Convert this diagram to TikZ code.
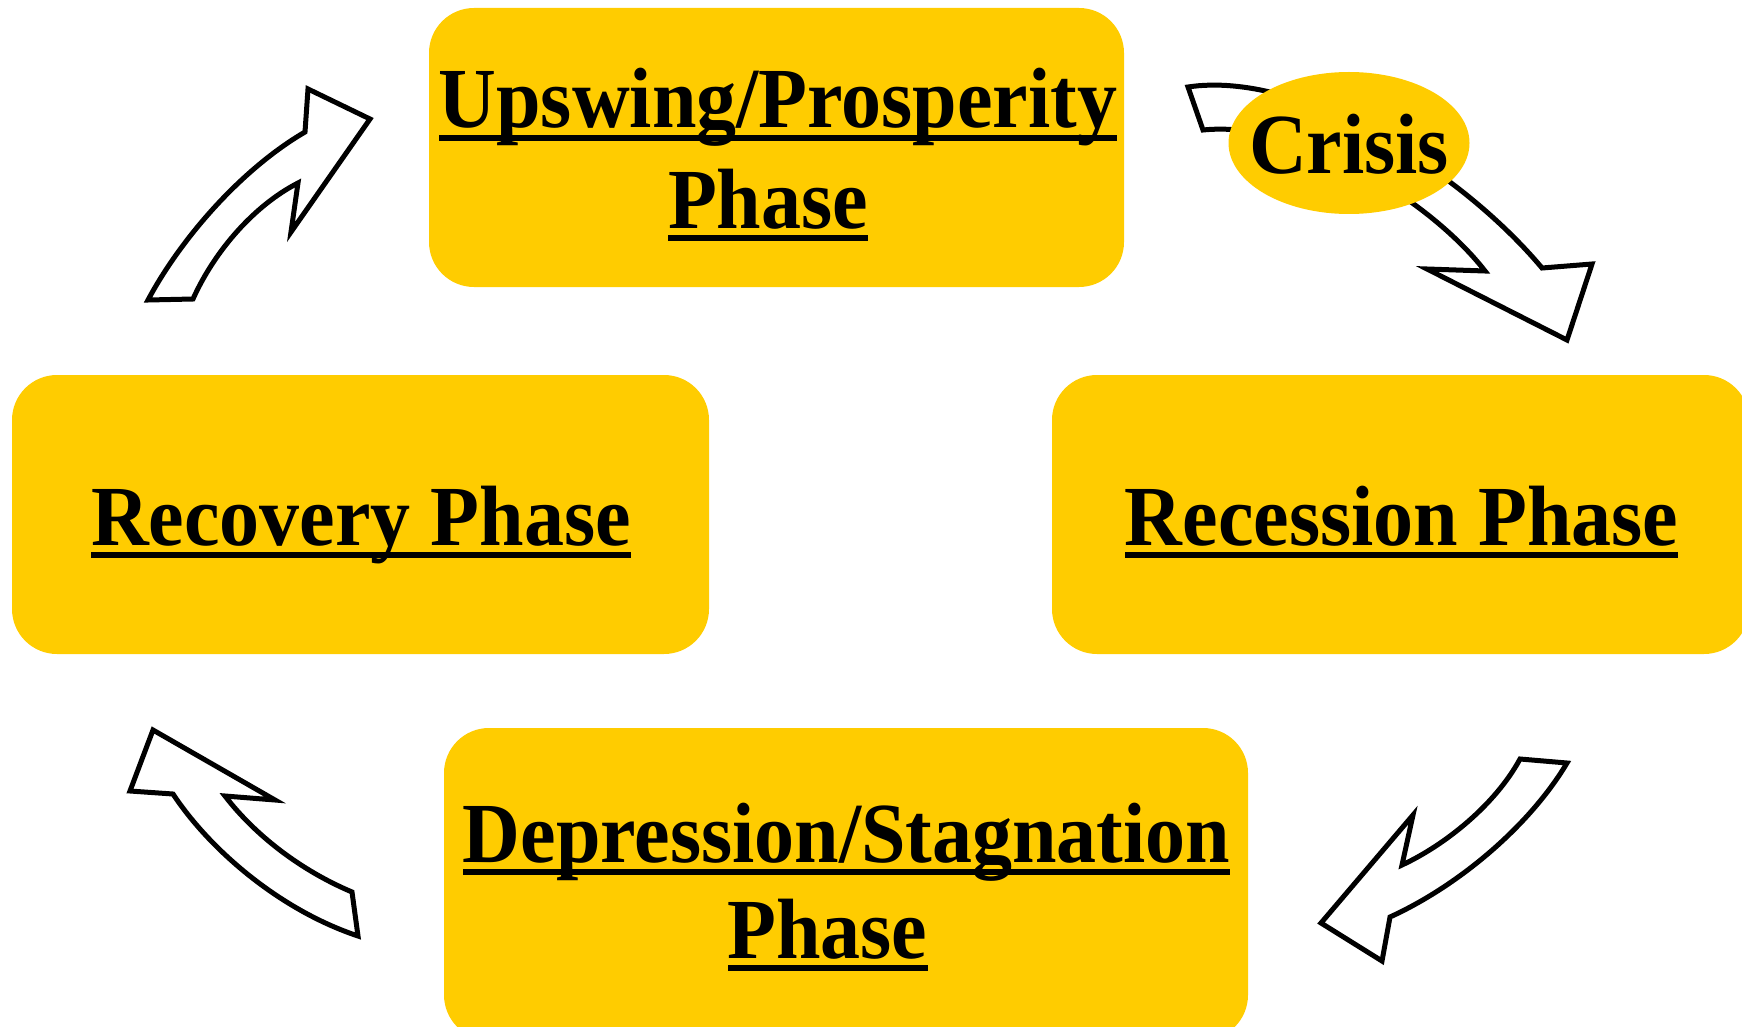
\documentclass[tikz,border=0pt]{standalone}
\usepackage{fontspec}
\usepackage{graphicx}
\setmainfont{Liberation Serif}
\usetikzlibrary{shapes.geometric}
\definecolor{phaseyellow}{RGB}{255,204,0}
\newcommand\ultext[1]{\setbox0\hbox{\scalebox{1}[1.07]{#1}}\rlap{\rule[-13pt]{\wd0}{6pt}}\box0}
\tikzset{
  phasebox/.style={fill=phaseyellow, draw=none, rounded corners=45pt, inner sep=0pt},
  txt/.style={inner sep=0pt, anchor=base, font=\fontsize{80}{96}\selectfont\bfseries},
  blockarrow/.style={draw=black, fill=white, line width=5pt, line join=miter, miter limit=20}
}
\begin{document}
\begin{tikzpicture}[x=1pt, y=-1pt]
\useasboundingbox (0,0) rectangle (1742,1027);
% boxes
\node[phasebox, minimum width=695pt, minimum height=279pt] (up) at (776.5,147.5) {};
\node[phasebox, minimum width=697pt, minimum height=279pt] (rcv) at (360.5,514.5) {};
\node[phasebox, minimum width=697pt, minimum height=279pt] (rcs) at (1400.5,514.5) {};
\node[phasebox, minimum width=804pt, minimum height=312pt] (dep) at (846,884) {};
% texts
\node[txt] (upa) at (778,128) {\ultext{Upswing/Prosperity}};
\node[txt] (upb) at (768,228) {\ultext{Phase}};
\node[txt] (rcvt) at (361,545) {\ultext{Recovery Phase}};
\node[txt] (rcst) at (1401.5,545) {\ultext{Recession Phase}};
\node[txt] (depa) at (846.5,862) {\ultext{Depression/Stagnation}};
\node[txt] (depb) at (827.5,958) {\ultext{Phase}};
% arrows
\draw[blockarrow] (148,300) .. controls (180,240) and (240,170) .. (305,132)
  -- (308,89) -- (370,119) -- (291,232) -- (298,183)
  .. controls (255,205) and (215,250) .. (193,299) -- cycle;
\draw[blockarrow] (1188,87) .. controls (1300,70) and (1460,170) .. (1542,268)
  -- (1592,264) -- (1567,340) -- (1427,269) -- (1485,271)
  .. controls (1430,200) and (1300,120) .. (1203,130) -- cycle;
\draw[blockarrow] (358,936) .. controls (280,910) and (210,850) .. (173,794)
  -- (130,791) -- (153,730) -- (275,800) -- (225,796)
  .. controls (255,835) and (300,870) .. (352,892) -- cycle;
\draw[blockarrow] (1567,763) .. controls (1530,825) and (1460,885) .. (1390,917)
  -- (1382,961) -- (1321,923) -- (1413,815) -- (1402,865)
  .. controls (1445,845) and (1495,805) .. (1520,759) -- cycle;
% crisis
\node[ellipse, fill=phaseyellow, draw=none, minimum width=241pt, minimum height=142pt, inner sep=0pt] (crisis) at (1349,143) {};
\node[txt] (crisist) at (1349,174) {\scalebox{1}[1.07]{Crisis}};
\end{tikzpicture}
\end{document}
